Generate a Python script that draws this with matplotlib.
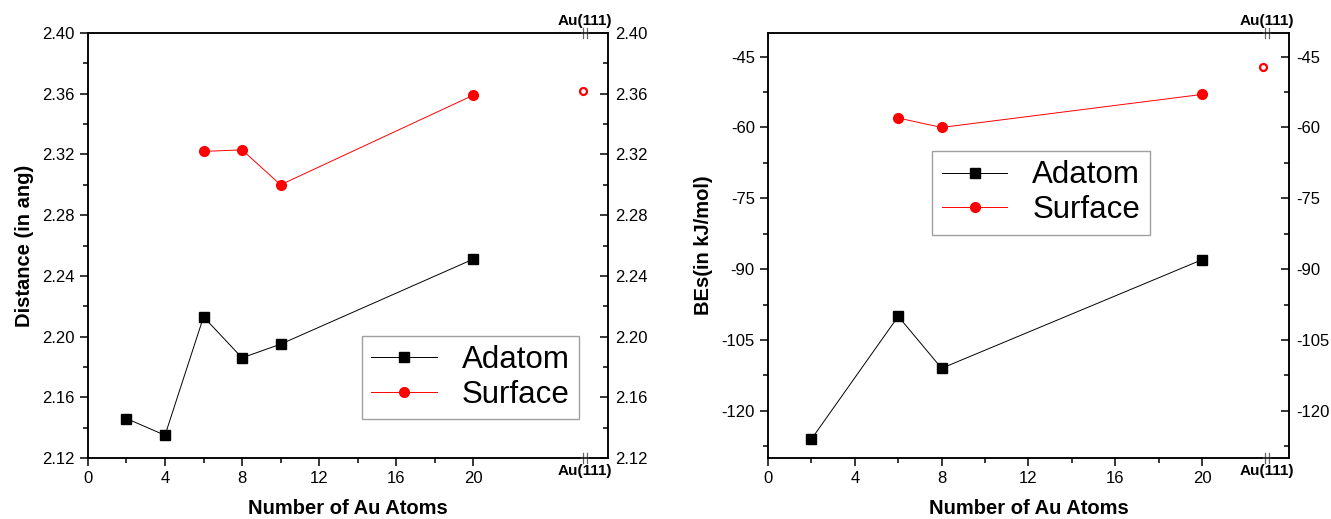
import matplotlib
matplotlib.use("Agg")
import matplotlib.pyplot as plt
from matplotlib.ticker import FixedLocator

plt.rcParams['font.family'] = ['Liberation Sans', 'DejaVu Sans']

# distance panel
dist_ad_x = [2, 4, 6, 8, 10, 20]
dist_ad_y = [2.146, 2.135, 2.213, 2.186, 2.195, 2.251]
dist_su_x = [6, 8, 10, 20]
dist_su_y = [2.322, 2.323, 2.300, 2.359]
dist_au111 = 2.362

# binding energy panel
be_ad_x = [2, 6, 8, 20]
be_ad_y = [-126.0, -100.0, -111.0, -88.0]
be_su_x = [6, 8, 20]
be_su_y = [-58.0, -60.0, -53.0]
be_au111 = -47.2

xticks = [0, 4, 8, 12, 16, 20]
xminor = [2, 6, 10, 14, 18]


def axis_break(ax, xb):
    # Origin style "//" break on top and bottom spines, with Au(111) label
    tr = ax.get_xaxis_transform()
    dx = (ax.get_xlim()[1] - ax.get_xlim()[0]) * 0.004
    for yb, va, off in [(1.0, 'bottom', 0.012), (0.0, 'top', -0.014)]:
        ax.plot([xb - dx, xb + dx], [yb, yb], color='white', lw=3,
                transform=tr, clip_on=False, zorder=5)
        for s in (-1, 1):
            ax.plot([xb + s * dx, xb + s * dx], [yb - 0.012, yb + 0.012],
                    color='#666666', lw=0.9, transform=tr, clip_on=False, zorder=6)
        ax.text(xb, yb + off, 'Au(111)', transform=tr, ha='center', va=va,
                fontsize=11, fontweight='bold')


def style(ax, xmax, ylim, yticks, yminor, ylabel, fmt):
    ax.set_xlim(0, xmax)
    ax.set_ylim(*ylim)
    ax.xaxis.set_major_locator(FixedLocator(xticks))
    ax.xaxis.set_minor_locator(FixedLocator(xminor))
    ax.yaxis.set_major_locator(FixedLocator(yticks))
    ax.yaxis.set_minor_locator(FixedLocator(yminor))
    ax.set_yticklabels([fmt.format(v) for v in yticks])
    ax.tick_params(which='both', direction='out', width=1.1, labelsize=12)
    ax.tick_params(which='major', length=6)
    ax.tick_params(which='minor', length=3.5)
    for sp in ax.spines.values():
        sp.set_linewidth(1.1)
    ax.set_xlabel('Number of Au Atoms', fontsize=14.5, fontweight='bold', labelpad=9)
    ax.set_ylabel(ylabel, fontsize=14.5, fontweight='bold', labelpad=6)

    ax2 = ax.twinx()
    ax2.set_ylim(*ylim)
    ax2.yaxis.set_major_locator(FixedLocator(yticks))
    ax2.yaxis.set_minor_locator(FixedLocator(yminor))
    ax2.set_yticklabels([fmt.format(v) for v in yticks])
    ax2.tick_params(which='both', direction='in', width=1.1, labelsize=12, pad=5)
    ax2.tick_params(which='major', length=6)
    ax2.tick_params(which='minor', length=3.5)
    for sp in ax2.spines.values():
        sp.set_linewidth(1.1)


fig = plt.figure(figsize=(13.31, 5.19), dpi=100)
ax1 = fig.add_axes([0.0661, 0.1175, 0.3907, 0.8189])
ax3 = fig.add_axes([0.5770, 0.1175, 0.3914, 0.8189])

# left panel
ax1.plot(dist_ad_x, dist_ad_y, color='black', lw=0.7, marker='s', ms=6.5,
         label='Adatom')
ax1.plot(dist_su_x, dist_su_y, color='red', lw=0.7, marker='o', ms=7,
         label='Surface')
ax1.plot([25.7], [dist_au111], linestyle='none', marker='o', ms=5, mfc='none',
         mec='red', mew=1.6)
style(ax1, 27, (2.12, 2.40), [2.12, 2.16, 2.20, 2.24, 2.28, 2.32, 2.36, 2.40],
      [2.14, 2.18, 2.22, 2.26, 2.30, 2.34, 2.38], 'Distance (in ang)', '{:.2f}')
axis_break(ax1, 25.8)
leg1 = ax1.legend(loc='center', bbox_to_anchor=(0.735, 0.19), fontsize=22.5,
                  frameon=True, fancybox=False, edgecolor='#888888',
                  handlelength=2.1, labelspacing=0.15, borderpad=0.3,
                  handletextpad=0.8)
leg1.get_frame().set_linewidth(1.0)

# right panel
ax3.plot(be_ad_x, be_ad_y, color='black', lw=0.7, marker='s', ms=6.5,
         label='Adatom')
ax3.plot(be_su_x, be_su_y, color='red', lw=0.7, marker='o', ms=7,
         label='Surface')
ax3.plot([22.8], [be_au111], linestyle='none', marker='o', ms=5, mfc='none',
         mec='red', mew=1.6)
style(ax3, 24, (-130, -40), [-120, -105, -90, -75, -60, -45],
      [-127.5, -112.5, -97.5, -82.5, -67.5, -52.5], 'BEs(in kJ/mol)', '{:.0f}')
axis_break(ax3, 23.0)
leg3 = ax3.legend(loc='center', bbox_to_anchor=(0.524, 0.624), fontsize=22.5,
                  frameon=True, fancybox=False, edgecolor='#888888',
                  handlelength=2.1, labelspacing=0.15, borderpad=0.3,
                  handletextpad=0.8)
leg3.get_frame().set_linewidth(1.0)

fig.savefig('out.png', dpi=100)
